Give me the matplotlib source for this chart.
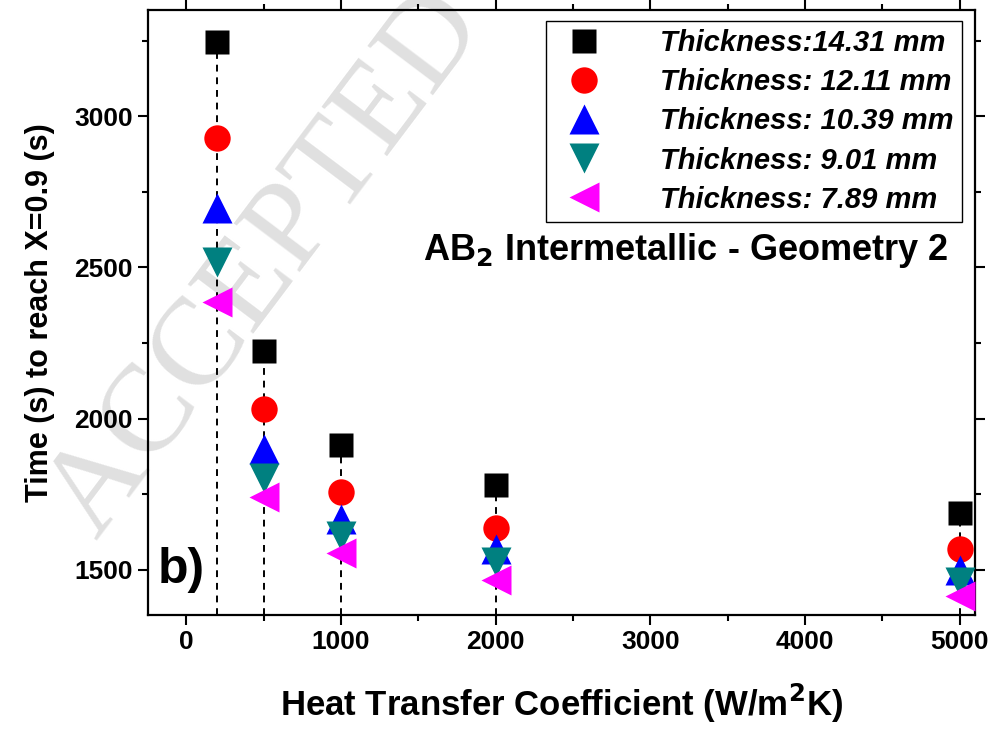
import numpy as np
import matplotlib
matplotlib.use('Agg')
import matplotlib.pyplot as plt
from matplotlib.ticker import MultipleLocator

plt.rcParams['font.family'] = ['Liberation Sans', 'DejaVu Sans']
plt.rcParams['font.weight'] = 'bold'
plt.rcParams['axes.labelweight'] = 'bold'
plt.rcParams['mathtext.default'] = 'bf'

# heat transfer coefficient (W/m2K)
h_coef = [200, 500, 1000, 2000, 5000]

# time (s) to reach X=0.9 for each thickness
t_1431 = [3246, 2223, 1913, 1781, 1688]
t_1211 = [2926, 2033, 1758, 1639, 1570]
t_1039 = [2695, 1900, 1668, 1570, 1500]
t_0901 = [2518, 1802, 1610, 1525, 1460]
t_0789 = [2386, 1740, 1556, 1467, 1412]

labels = ['Thickness:14.31 mm', 'Thickness: 12.11 mm', 'Thickness: 10.39 mm',
          'Thickness: 9.01 mm', 'Thickness: 7.89 mm']

fig = plt.figure(figsize=(9.91, 7.34), dpi=100)
ax = fig.add_axes([0.149, 0.162, 0.835, 0.824])

# watermark
fig.text(0.098, 0.262, 'ACCEPTED MANUSCRIPT', family='Liberation Serif', fontweight='normal',
         fontsize=90, color='#e0e0e0', rotation=53, ha='left', va='baseline',
         rotation_mode='anchor', zorder=-1)
ax.patch.set_alpha(0)

ylow = 1350
ax.vlines(h_coef, ylow, t_1431, colors='k', linestyles=(0, (3.5, 3)), lw=1.4, zorder=1)

ax.plot(h_coef, t_1431, 's', color='black', ms=17, mec='none', label=labels[0], zorder=3)
ax.plot(h_coef, t_1211, 'o', color='red', ms=19, mec='none', label=labels[1], zorder=3)
ax.plot(h_coef, t_1039, '^', color='blue', ms=21, mec='none', label=labels[2], zorder=3)
ax.plot(h_coef, t_0901, 'v', color='#008080', ms=21, mec='none', label=labels[3], zorder=3)
ax.plot(h_coef, t_0789, '<', color='magenta', ms=21, mec='none', label=labels[4], zorder=3)

ax.set_xlim(-250, 5100)
ax.set_ylim(ylow, 3350)
ax.xaxis.set_major_locator(MultipleLocator(1000))
ax.xaxis.set_minor_locator(MultipleLocator(500))
ax.yaxis.set_major_locator(MultipleLocator(500))
ax.yaxis.set_minor_locator(MultipleLocator(250))
ax.tick_params(which='both', direction='out', width=1.5, top=True, right=True,
               labeltop=False, labelright=False, labelsize=19)
ax.tick_params(which='major', length=7)
ax.tick_params(which='minor', length=4)
for s in ax.spines.values():
    s.set_linewidth(1.6)

ax.set_xlabel('Heat Transfer Coefficient (W/m$^2$K)', fontsize=25, labelpad=20)
ax.set_ylabel('Time (s) to reach X=0.9 (s)', fontsize=22, labelpad=14)

ax.text(0.968, 0.603, 'AB$_2$ Intermetallic - Geometry 2', transform=ax.transAxes,
        fontsize=26, ha='right', va='center')
ax.text(0.012, 0.075, 'b)', transform=ax.transAxes, fontsize=36, ha='left', va='center')

leg = ax.legend(loc='upper right', bbox_to_anchor=(0.984, 0.983), fancybox=False,
                edgecolor='k', framealpha=1, handletextpad=1.6, borderpad=0.3,
                labelspacing=0.38, markerscale=1.0, borderaxespad=0,
                prop={'style': 'italic', 'weight': 'bold', 'size': 21})
leg.get_frame().set_linewidth(1.0)

fig.savefig('out.png', dpi=100)
